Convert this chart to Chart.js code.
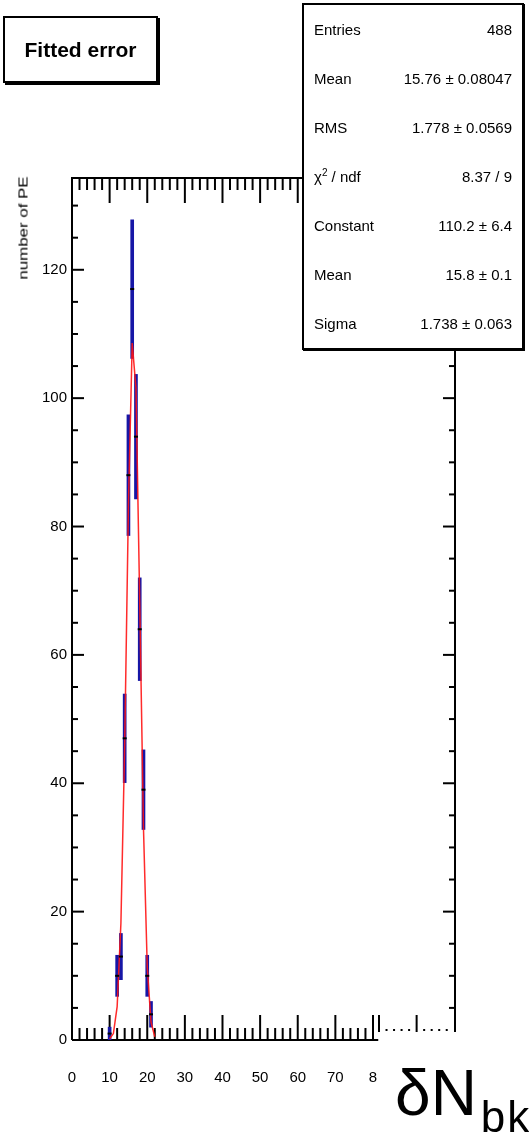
<!DOCTYPE html>
<html>
<head>
<meta charset="utf-8">
<script src="https://cdn.jsdelivr.net/npm/chart.js@4.4.1/dist/chart.umd.min.js"></script>
<style>
html, body { margin: 0; padding: 0; background: #fff; overflow: hidden; }
body { width: 529px; height: 1147px; position: relative; font-family: "Liberation Sans", Arial, sans-serif; color: #000; }
#wrap { position: absolute; left: 0; top: 0; width: 529px; height: 1147px; }
.titleBox { position: absolute; left: 3px; top: 16px; width: 151px; height: 63px; border: 2px solid #000; background: #fff;
  box-shadow: 2px 2px 0 #000; font-weight: bold; font-size: 21px; line-height: 63px; text-align: center; }
.stats { position: absolute; left: 302px; top: 3px; width: 218px; height: 343px; border: 2px solid #000; background: #fff;
  box-shadow: 1px 1px 0 #000; font-size: 15px; }
.stats .row { position: absolute; left: 10px; right: 10px; display: flex; justify-content: space-between; line-height: 18px; height: 18px; }
.stats sup { font-size: 10px; line-height: 0; vertical-align: 6px; }
.ytitle { position: absolute; left: 23px; top: 228px; font-size: 13px; white-space: nowrap;
  transform: translate(-50%, -50%) rotate(-90deg) scaleX(1.3); }
.dn { position: absolute; left: 395px; top: 1055px; font-size: 64px; line-height: 76px; white-space: nowrap; }
.dn sub { font-size: 44px; vertical-align: -17px; margin-left: 4px; letter-spacing: 2px; }
</style>
</head>
<body>
<div id="wrap"><canvas id="chartPE"></canvas></div>
<div class="titleBox">Fitted error</div>
<div class="stats" id="stats"></div>
<div class="ytitle">number of PE</div>
<div class="dn">δN<sub>bkg</sub></div>
<script>
// histogram bins (as they sit on the drawn axis)
const binX = [10, 12, 13, 14, 15, 16, 17, 18, 19, 20, 21];
const counts = [1, 10, 13, 47, 88, 117, 94, 64, 39, 10, 4];
const errLow = [0, 6.8, 9.4, 40.1, 78.6, 106.2, 84.3, 56, 32.8, 6.8, 2];
const errHigh = [2, 13.2, 16.6, 53.9, 97.4, 127.8, 103.7, 72, 45.2, 13.2, 6];

// gaussian fit
const fitX = [10, 11, 12, 13, 14, 15, 16, 17, 18, 19, 20, 21, 22];
const fitY = [0.2, 1.0, 5.2, 18.2, 45.9, 83.3, 108.6, 101.6, 68.3, 33.0, 11.4, 2.8, 0.5];

const xTicks = [0, 10, 20, 30, 40, 50, 60, 70, 80];
const xTickLabels = ['0', '10', '20', '30', '40', '50', '60', '70', '8'];
const yTicks = [0, 20, 40, 60, 80, 100, 120];

const statsLabels = ['Entries', 'Mean', 'RMS', 'χ<sup>2</sup> / ndf', 'Constant', 'Mean', 'Sigma'];
const statsValues = ['488', '15.76 ± 0.08047', '1.778 ± 0.0569', '8.37 / 9', '110.2 ± 6.4', '15.8 ± 0.1', '1.738 ± 0.063'];

const xMax = 101.8;
const yMax = 134.3;

const stats = document.getElementById('stats');
statsLabels.forEach((l, i) => {
    const row = document.createElement('div');
    row.className = 'row';
    row.style.top = (16 + i * 49) + 'px';
    row.innerHTML = '<span>' + l + '</span><span>' + statsValues[i] + '</span>';
    stats.appendChild(row);
});

// ROOT style frame: inward ticks on all sides
const frame = {
    id: 'frame',
    beforeDatasetsDraw(chart) {
        const { ctx, chartArea: a, scales: { x, y } } = chart;
        ctx.save();
        ctx.strokeStyle = '#000';
        ctx.lineWidth = 2;
        const seg = (x1, y1, x2, y2) => { ctx.beginPath(); ctx.moveTo(x1, y1); ctx.lineTo(x2, y2); ctx.stroke(); };
        // axes
        seg(a.left, a.top, a.left, a.bottom);
        seg(a.left - 1, a.top, a.right, a.top);
        seg(a.right, a.top, a.right, a.bottom - 8);
        seg(a.left, a.bottom, x.getPixelForValue(81.4), a.bottom);
        // x ticks bottom / top
        for (let v = 0; v <= 80; v += 2) {
            const px = x.getPixelForValue(v);
            const len = v % 10 === 0 ? 25 : 12;
            seg(px, a.bottom, px, a.bottom - len);
        }
        for (let v = 0; v <= 100; v += 2) {
            const px = x.getPixelForValue(v);
            const len = v % 10 === 0 ? 25 : 12;
            seg(px, a.top, px, a.top + len);
        }
        // dotted tail of the lower axis
        for (let k = 0; k < 10; k++) {
            const px = x.getPixelForValue(81.6 + 2 * k);
            if (k % 5 === 0) seg(px, a.bottom - 25, px, a.bottom - 8);
            else seg(px, a.bottom - 11, px, a.bottom - 9);
        }
        // y ticks left / right
        for (let v = 0; v <= 130; v += 5) {
            const py = y.getPixelForValue(v);
            const len = v % 20 === 0 ? 12 : 6;
            seg(a.left, py, a.left + len, py);
            if (v >= 5) seg(a.right, py, a.right - len, py);
        }
        ctx.restore();
    }
};

const ctx = document.getElementById('chartPE').getContext('2d');
new Chart(ctx, {
    type: 'scatter',
    data: {
        datasets: [{
            type: 'scatter',
            data: binX.map((v, i) => ({ x: v, y: counts[i] })),
            pointStyle: 'line',
            pointRadius: 2,
            pointBorderColor: '#000',
            pointBackgroundColor: '#000',
            pointBorderWidth: 2,
            order: 0
        },
        {
            type: 'line',
            data: fitX.map((v, i) => ({ x: v, y: fitY[i] })),
            borderColor: 'rgba(255, 20, 20, 0.9)',
            borderWidth: 1.5,
            pointRadius: 0,
            tension: 0,
            fill: false,
            order: 1
        },
        {
            type: 'bar',
            data: binX.map((v, i) => ({ x: v, y: [errLow[i], errHigh[i]] })),
            backgroundColor: '#1616a6',
            borderWidth: 0,
            barThickness: 3,
            order: 2
        }]
    },
    options: {
        responsive: true,
        maintainAspectRatio: false,
        animation: false,
        events: [],
        layout: { padding: { top: 178, right: 74, left: 0, bottom: 0 } },
        plugins: { legend: { display: false }, tooltip: { enabled: false } },
        scales: {
            x: {
                type: 'linear',
                min: 0,
                max: xMax,
                offset: false,
                grid: { display: false, drawTicks: false },
                border: { display: false },
                afterBuildTicks: (s) => { s.ticks = xTicks.map(v => ({ value: v })); },
                ticks: {
                    autoSkip: false,
                    maxRotation: 0,
                    padding: 29,
                    color: '#000',
                    font: { size: 15, family: 'Liberation Sans' },
                    callback: (v) => xTickLabels[xTicks.indexOf(v)]
                },
                afterFit: (s) => { s.height = 107; }
            },
            y: {
                type: 'linear',
                min: 0,
                max: yMax,
                grid: { display: false, drawTicks: false },
                border: { display: false },
                afterBuildTicks: (s) => { s.ticks = yTicks.map(v => ({ value: v })); },
                ticks: {
                    autoSkip: false,
                    padding: 5,
                    color: '#000',
                    font: { size: 15, family: 'Liberation Sans' }
                },
                afterFit: (s) => { s.width = 72; }
            }
        }
    },
    plugins: [frame]
});
</script>
</body>
</html>
